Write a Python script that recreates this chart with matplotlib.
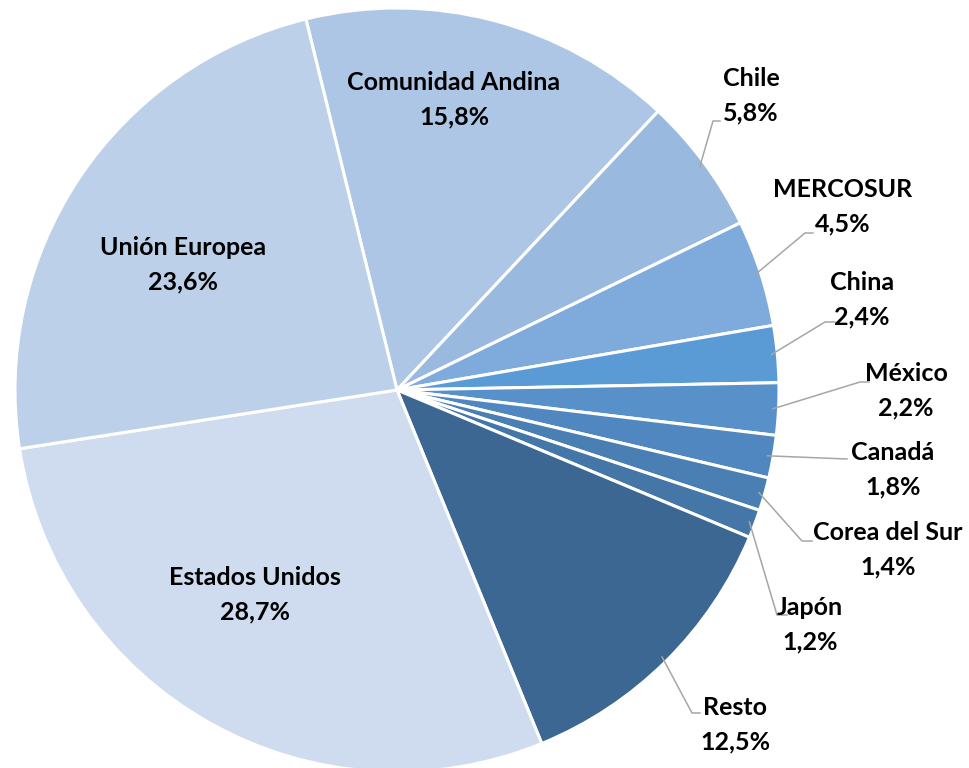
import numpy as np
import matplotlib
matplotlib.use("Agg")
import matplotlib.pyplot as plt

# data (clockwise order starting with Comunidad Andina)
regions = ["Comunidad Andina", "Chile", "MERCOSUR", "China", "México", "Canadá",
           "Corea del Sur", "Japón", "Resto", "Estados Unidos", "Unión Europea"]
shares = [15.8, 5.8, 4.5, 2.4, 2.2, 1.8, 1.4, 1.2, 12.5, 28.7, 23.6]
colors = ["#ADC6E5", "#99B9DF", "#7EABDB", "#5B9BD5", "#5890CA", "#5087C0",
          "#4A7FB3", "#4576A8", "#3B6792", "#CFDCEF", "#BDD0E9"]

# label centres in pixels (x, y from top)
label_pos = {
    "Comunidad Andina": (454, 100), "Unión Europea": (183, 265),
    "Estados Unidos": (255, 595), "Chile": (751, 96), "MERCOSUR": (843, 207),
    "China": (862, 300), "México": (906, 391), "Canadá": (893, 470),
    "Corea del Sur": (888, 550), "Japón": (810, 625), "Resto": (735, 725),
}
# leader line: elbow x, elbow y, end x (pixels)
leaders = {
    "Chile": (713, 121, 720), "MERCOSUR": (805, 233, 813),
    "China": (825, 322, 835), "México": (860, 382, 869),
    "Canadá": (847, 459, 847), "Corea del Sur": (802, 541, 812),
    "Japón": (777, 615, 787), "Resto": (692, 713, 700),
}

W, H = 969, 768
cx, cy, R = 397, 390, 382

fig = plt.figure(figsize=(W / 100, H / 100), dpi=100)
ax = fig.add_axes([0, 0, 1, 1])
wedges, _ = ax.pie(shares, colors=colors, startangle=103.8, counterclock=False,
                   center=(cx, H - cy), radius=R,
                   wedgeprops=dict(edgecolor="white", linewidth=2.2))
ax.set_xlim(0, W)
ax.set_ylim(0, H)
ax.set_aspect("equal")
ax.axis("off")

font = dict(family=["Lato", "DejaVu Sans"], fontweight="bold", fontsize=18,
            color="black", ha="center", va="center", linespacing=1.6)

for name, val, w in zip(regions, shares, wedges):
    x, y = label_pos[name]
    ax.text(x, H - y, f"{name}\n{val:.1f}%".replace(".", ","), **font)
    if name in leaders:
        ex, ey, endx = leaders[name]
        ang = np.deg2rad((w.theta1 + w.theta2) / 2)
        sx = cx + R * 0.985 * np.cos(ang)
        sy = (H - cy) + R * 0.985 * np.sin(ang)
        ax.plot([sx, ex, endx], [sy, H - ey, H - ey], color="#A6A6A6", lw=1.1)

fig.savefig("out.png", dpi=100)
